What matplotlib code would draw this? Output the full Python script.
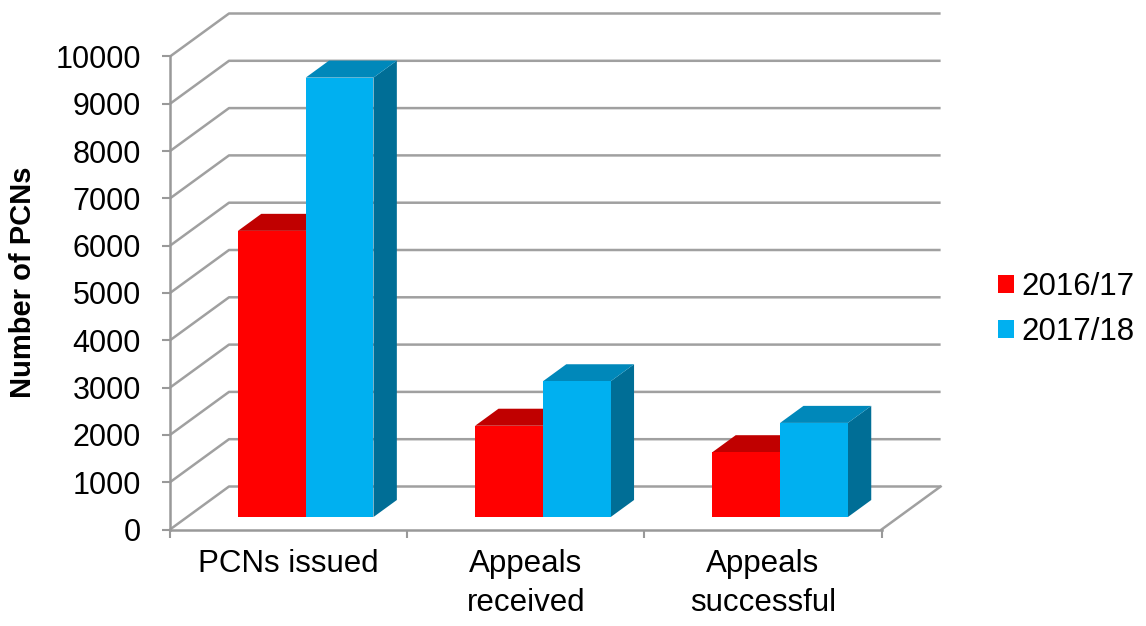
import numpy as np
import matplotlib
matplotlib.use('Agg')
import matplotlib.pyplot as plt
from matplotlib.patches import Polygon, Patch

plt.rcParams['font.family'] = ['Liberation Sans', 'DejaVu Sans']

# data
categories = ['PCNs issued', 'Appeals\nreceived', 'Appeals\nsuccessful']
series_names = ['2016/17', '2017/18']
values_1617 = [6050, 1930, 1370]
values_1718 = [9290, 2870, 1990]
yticks = list(range(0, 10001, 1000))

front_cols = ['#ff0000', '#00b0f0']
top_cols = ['#c00000', '#0088ba']
side_cols = ['#a00000', '#006e96']
grid_col = '#a0a0a0'

W, H = 1146, 626
fig = plt.figure(figsize=(W / 100, H / 100), dpi=100)

# layout in pixels
x0_px, y0_px = 170, 529.5      # front origin
cat_px = 237.2                 # px per category
v_px = 0.0473                  # px per unit value
depth_dx_px, depth_dy_px = 59, 43
right_px, top_px = 941.7, 14

ax = fig.add_axes([x0_px / W, (H - y0_px) / H,
                   (right_px - x0_px) / W, (y0_px - top_px) / H])
ax.set_xlim(0, (right_px - x0_px) / cat_px)
ax.set_ylim(0, (y0_px - top_px) / v_px)

DX = depth_dx_px / cat_px      # depth offset, x data units
DY = depth_dy_px / v_px        # depth offset, y data units
f_front, f_back = 0.29, 0.686  # bar depth position (fraction of floor depth)
n = len(categories)

# back wall gridlines with slanted left wall
for v in yticks:
    ax.plot([0, DX, n + DX], [v, v + DY, v + DY], color=grid_col, lw=1.8,
            clip_on=False, zorder=1, solid_capstyle='butt')
# floor right edge
ax.plot([n, n + DX], [0, DY], color=grid_col, lw=1.8, clip_on=False, zorder=1)

# bars
bw = 1 / 3.5
gap = (1 - 2 * bw) / 2
fx, fy = f_front * DX, f_front * DY
bdx, bdy = (f_back - f_front) * DX, (f_back - f_front) * DY
for i in range(n):
    for s, vals in enumerate([values_1617, values_1718]):
        h = vals[i]
        xl = i + gap + s * bw + fx
        xr = xl + bw
        z = 3 + i * 2 + s
        side = Polygon([(xr, fy), (xr + bdx, fy + bdy), (xr + bdx, fy + bdy + h), (xr, fy + h)],
                       closed=True, facecolor=side_cols[s], edgecolor='none', zorder=z, clip_on=False)
        top = Polygon([(xl, fy + h), (xr, fy + h), (xr + bdx, fy + h + bdy), (xl + bdx, fy + h + bdy)],
                      closed=True, facecolor=top_cols[s], edgecolor='none', zorder=z, clip_on=False)
        ax.add_patch(side)
        ax.add_patch(top)
        ax.bar(xl, h, width=bw, bottom=fy, align='edge', color=front_cols[s],
               edgecolor='none', zorder=z, clip_on=False)

# axes styling
for sp in ['top', 'right']:
    ax.spines[sp].set_visible(False)
ax.spines['left'].set_bounds(0, 10000)
ax.spines['bottom'].set_bounds(0, n)
for sp in ['left', 'bottom']:
    ax.spines[sp].set_color('#999999')
    ax.spines[sp].set_linewidth(1.8)
    ax.spines[sp].set_zorder(2)

ax.set_yticks(yticks)
ax.set_yticklabels([str(v) for v in yticks], fontsize=22)
ax.tick_params(axis='y', direction='out', length=6, width=1.5, color='#999999', pad=15)

ax.set_xticks(range(n + 1))
ax.set_xticklabels([''] * (n + 1))
ax.set_xticks(np.arange(n) + 0.5, minor=True)
ax.set_xticklabels(categories, minor=True, fontsize=22.5, linespacing=1.4)
ax.tick_params(axis='x', which='major', direction='out', length=6, width=1.5, color='#999999')
ax.tick_params(axis='x', which='minor', length=0, pad=14)

fig.text(23 / W, 1 - 282 / H, 'Number of PCNs', rotation=90, ha='center', va='center',
         fontsize=21, fontweight='bold')

handles = [Patch(facecolor=c, edgecolor='none') for c in front_cols]
fig.legend(handles, series_names, loc='center left',
           bbox_to_anchor=(998 / W, 1 - 309.5 / H), bbox_transform=fig.transFigure,
           frameon=False, fontsize=22.5, handlelength=0.52, handleheight=0.52,
           handletextpad=0.23, labelspacing=0.48, borderpad=0, borderaxespad=0)

fig.savefig('out.png', dpi=100)
